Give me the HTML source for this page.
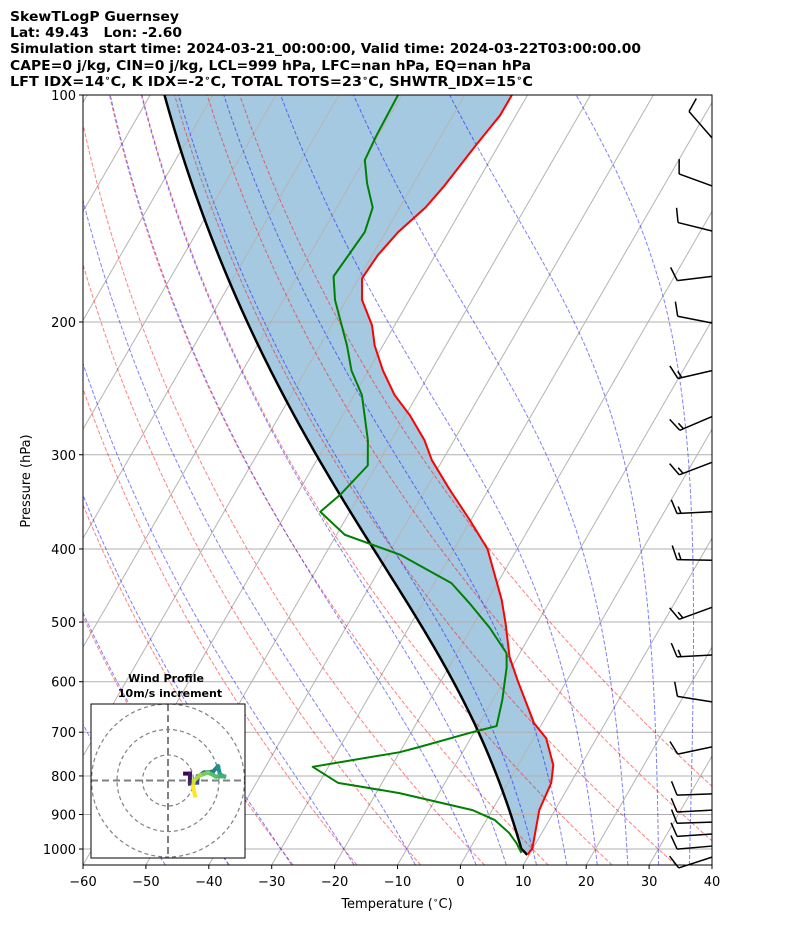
<!DOCTYPE html>
<html><head><meta charset="utf-8"><style>
html,body{margin:0;padding:0;background:#fff;}
svg{display:block;font-family:"DejaVu Sans","Liberation Sans",sans-serif;}
</style></head><body>
<svg id="chart" width="794" height="937" viewBox="0 0 794 937" xmlns="http://www.w3.org/2000/svg">
<defs><clipPath id="plotclip"><rect x="83" y="95" width="629" height="770"/></clipPath></defs>
<g font-weight="bold" font-size="13" fill="#000">
<text x="10" y="21" textLength="169" lengthAdjust="spacingAndGlyphs">SkewTLogP Guernsey</text>
<text x="10" y="37" textLength="172" lengthAdjust="spacingAndGlyphs" xml:space="preserve">Lat: 49.43   Lon: -2.60</text>
<text x="10" y="53" textLength="631" lengthAdjust="spacingAndGlyphs">Simulation start time: 2024-03-21_00:00:00, Valid time: 2024-03-22T03:00:00.00</text>
<text x="10" y="70" textLength="521" lengthAdjust="spacingAndGlyphs">CAPE=0 j/kg, CIN=0 j/kg, LCL=999 hPa, LFC=nan hPa, EQ=nan hPa</text>
<text x="10" y="86" textLength="523" lengthAdjust="spacingAndGlyphs">LFT IDX=14<tspan font-size="9" dy="-5">∘</tspan><tspan dy="5">C, K IDX=-2</tspan><tspan font-size="9" dy="-5">∘</tspan><tspan dy="5">C, TOTAL TOTS=23</tspan><tspan font-size="9" dy="-5">∘</tspan><tspan dy="5">C, SHWTR_IDX=15</tspan><tspan font-size="9" dy="-5">∘</tspan><tspan dy="5">C</tspan></text>
</g>
<g id="plot" clip-path="url(#plotclip)"></g>
<rect x="83" y="95" width="629" height="770" fill="none" stroke="#000" stroke-width="1"/>
<g id="axes" font-size="13" fill="#000"></g>
<text x="397" y="908" text-anchor="middle" font-size="13">Temperature (<tspan font-size="9" dy="-5">∘</tspan><tspan dy="5">C)</tspan></text>
<text transform="translate(30,481) rotate(-90)" text-anchor="middle" font-size="13">Pressure (hPa)</text>
<g id="barbs"></g>
<g id="hodo"></g>
</svg>
<script>
const tempP=[1018,997,888,817,774,713,681,597,556,502,467,400,366,334,305,287,266,250,232,215,202,187,175,163,152,141,132,116.5,106.4,100];
const tempT=[9.7,9.9,7.5,6.9,5.6,2.0,-1.3,-7.9,-11.3,-15.0,-17.8,-24.7,-30.2,-36.1,-41.7,-44.7,-49.3,-53.6,-57.7,-61.3,-63.6,-67.5,-69.5,-69.1,-68.0,-65.9,-64.9,-63.6,-62.5,-62.5];
const dewP=[1012,982,952,915,888,843,817,778,744,732,700,687,634,574,550,509,472,444,407,383,357,339,310,287,250,232,215,187,174,152,141,131,122,113.4,100];
const dewT=[8.6,6.9,4.8,1.3,-3.1,-16.3,-27.0,-32.5,-20.0,-17.3,-10.3,-7.0,-8.5,-10.8,-12.1,-17.1,-22.6,-27.3,-38.1,-48.7,-54.7,-53.1,-51.4,-53.7,-58.8,-62.7,-65.7,-71.8,-74.2,-73.3,-74.3,-77.4,-79.9,-80.3,-80.6];
const lclP=999;
const barbP=[114,132,151.5,174,200.6,232,267,307,357,414,478,553,638,732,845,888,921,955,991,1025];
const barbDir=[319,290,284,263,281,257,247,249,267,271,250,267,279,258,268,267,268,266,265,252];
const barbSpd=[10,10,10,10,10,15,15,15,15,15,15,15,10,10,10,10,10,10,10,10];
const hodoU=[6.7,8.6,8.6,11.4,11.8,14.1,17.6,19.6,20.4,22.0,18.8,15.7,12.5,10.2,9.8,10.6];
const hodoV=[2.7,2.7,-1.2,-0.8,1.6,3.1,3.5,5.5,2.4,1.6,1.6,3.1,2.0,0,-2.4,-5.9];
const xTicks=[-60,-50,-40,-30,-20,-10,0,10,20,30,40];
const pTicks=[100,200,300,400,500,600,700,800,900,1000];
const dryT0=[];for(let t=-40;t<=50;t+=10)dryT0.push(t);
const moistT0=[-50,-40,-30,-20,-10,0,5,10,15,20,25,30,35,40,45];
const hodoRings=[10,20,30];

const NS='http://www.w3.org/2000/svg';
const X0=83,X1=712,Y0=95,Y1=865,PB=1050,PT=100;
function yP(p){return Y0+(Y1-Y0)*Math.log(p/PT)/Math.log(PB/PT);}
function xT(t,p){return X0+(t+60)*(X1-X0)/100+0.5774*(Y1-yP(p));}
function mk(tag,attrs,parent){const e=document.createElementNS(NS,tag);for(const k in attrs)e.setAttribute(k,attrs[k]);parent.appendChild(e);return e;}
function pathD(pts){return pts.map((q,i)=>(i?'L':'M')+q[0].toFixed(2)+' '+q[1].toFixed(2)).join(' ');}
const plot=document.getElementById('plot');
const axes=document.getElementById('axes');

const Rd=287.04,Cp=1005.7,Lv=2.501e6,eps=0.622;
function dTdp(p,T){const tc=T-273.15;const es=6.112*Math.exp(17.67*tc/(tc+243.5));const rs=eps*es/(p-es);
 return (Rd*T+Lv*rs)/(p*(Cp+Lv*Lv*rs*eps/(Rd*T*T)));}
function moist(p0,T0K,p1,step){const out=[[p0,T0K]];let p=p0,T=T0K;const n=Math.ceil(Math.abs(p1-p0)/step);const h=(p1-p0)/n;
 for(let i=0;i<n;i++){const k1=dTdp(p,T),k2=dTdp(p+h/2,T+h/2*k1),k3=dTdp(p+h/2,T+h/2*k2),k4=dTdp(p+h,T+h*k3);T+=h/6*(k1+2*k2+2*k3+k4);p+=h;out.push([p,T]);}return out;}

const parcel=[];
(function(){const p0=tempP[0],T0=tempT[0]+273.15;
 for(let p=p0;p>lclP;p-=2)parcel.push([p,T0*Math.pow(p/p0,0.2857)]);
 const Tl=T0*Math.pow(lclP/p0,0.2857);
 moist(lclP,Tl,100,3).forEach(q=>parcel.push(q));})();

{const pts=[];for(let i=0;i<tempP.length;i++)pts.push([xT(tempT[i],tempP[i]),yP(tempP[i])]);
 for(let i=parcel.length-1;i>=0;i--)pts.push([xT(parcel[i][1]-273.15,parcel[i][0]),yP(parcel[i][0])]);
 const s=mk('path',{d:pathD(pts)+'Z',fill:'#1f77b4','fill-opacity':'0.4',stroke:'none'},plot);
 
 }

for(let t=-160;t<=40;t+=10){const l=mk('line',{x1:xT(t,PB),y1:yP(PB),x2:xT(t,PT),y2:yP(PT),stroke:'#b4b4b4','stroke-width':'1'},plot);
 
 }
pTicks.forEach(p=>{const l=mk('line',{x1:X0,y1:yP(p),x2:X1,y2:yP(p),stroke:'#b0b0b0','stroke-width':'1'},plot);
 
 });
dryT0.forEach(th=>{const pts=[];for(let p=PB;p>=PT-1;p-=10){pts.push([xT((th+273.15)*Math.pow(p/1000,0.2857)-273.15,p),yP(p)]);}
 const l=mk('path',{d:pathD(pts),fill:'none',stroke:'#ff0000','stroke-opacity':'0.5','stroke-width':'1','stroke-dasharray':'4 2'},plot);
 
 });
moistT0.forEach(t0=>{const up=moist(1000,t0+273.15,100,5),dn=moist(1000,t0+273.15,PB,5);
 const all=dn.reverse().concat(up.slice(1));const pts=all.map(q=>[xT(q[1]-273.15,q[0]),yP(q[0])]);
 const l=mk('path',{d:pathD(pts),fill:'none',stroke:'#0000ff','stroke-opacity':'0.5','stroke-width':'1','stroke-dasharray':'4 2'},plot);
 
 });
{const l=mk('path',{d:pathD(parcel.map(q=>[xT(q[1]-273.15,q[0]),yP(q[0])])),fill:'none',stroke:'#000','stroke-width':'2.5'},plot);
 
 }
{const l=mk('path',{d:pathD(tempP.map((p,i)=>[xT(tempT[i],p),yP(p)])),fill:'none',stroke:'#ff0000','stroke-width':'2','stroke-linejoin':'round'},plot);
 
 }
{const l=mk('path',{d:pathD(dewP.map((p,i)=>[xT(dewT[i],p),yP(p)])),fill:'none',stroke:'#008000','stroke-width':'2','stroke-linejoin':'round'},plot);
 
 }

xTicks.forEach(t=>{const x=X0+(t+60)*(X1-X0)/100;
 const tk=mk('line',{x1:x,y1:Y1,x2:x,y2:Y1+4,stroke:'#000','stroke-width':'1'},axes);
 
 
 const lb=mk('text',{x:x,y:Y1+21,'text-anchor':'middle'},axes);lb.textContent=(t<0?'\u2212':'')+Math.abs(t);
 
 });
pTicks.forEach(p=>{const y=yP(p);
 const tk=mk('line',{x1:X0-4,y1:y,x2:X0,y2:y,stroke:'#000','stroke-width':'1'},axes);
 
 
 const lb=mk('text',{x:X0-7,y:y+5,'text-anchor':'end'},axes);lb.textContent=p;
 
 });

const barbs=document.getElementById('barbs');
barbP.forEach((p,i)=>{const bx=X1,by=yP(p);const a=barbDir[i]*Math.PI/180;
 const d=[Math.sin(a),-Math.cos(a)];const L=35;const tx=bx+L*d[0],ty=by+L*d[1];const n=[-d[1],d[0]];
 const g=mk('g',{stroke:'#000','stroke-width':'1.5',fill:'none'},barbs);
 
 
 mk('line',{x1:bx,y1:by,x2:tx,y2:ty},g);
 let s=barbSpd[i];let off=0;
 while(s>=10){const px=tx-off*d[0],py=ty-off*d[1];mk('line',{x1:px,y1:py,x2:px+14*n[0]+5*d[0],y2:py+14*n[1]+5*d[1]},g);s-=10;off+=4;}
 if(s>=5){if(off===0)off=4;const px=tx-off*d[0],py=ty-off*d[1];mk('line',{x1:px,y1:py,x2:px+7*n[0]+2.5*d[0],y2:py+7*n[1]+2.5*d[1]},g);}
});

const hodo=document.getElementById('hodo');
const HX=91,HY=704,HW=154,HH=154,HCX=168,HCY=780.5,HS=2.55;
{const t1=mk('text',{x:166,y:682,'text-anchor':'middle','font-size':'11','font-weight':'bold'},hodo);t1.textContent='Wind Profile';
 
 
 const t2=mk('text',{x:170,y:697,'text-anchor':'middle','font-size':'11','font-weight':'bold'},hodo);t2.textContent='10m/s increment';
 
 
 const bg=mk('rect',{x:HX,y:HY,width:HW,height:HH,fill:'#fff',stroke:'none'},hodo);
 
 }
const hc=mk('g',{},hodo);


const cp=mk('clipPath',{id:'hodoclip'},hc);mk('rect',{x:HX,y:HY,width:HW,height:HH},cp);
const hg=mk('g',{'clip-path':'url(#hodoclip)'},hc);
hodoRings.forEach(r=>{const c=mk('circle',{cx:HCX,cy:HCY,r:r*HS,fill:'none',stroke:'#808080','stroke-width':'1.2','stroke-dasharray':'4 3'},hg);
 
 });
{const a=mk('line',{x1:HX,y1:HCY,x2:HX+HW,y2:HCY,stroke:'#808080','stroke-width':'2','stroke-dasharray':'7 4'},hg);
 
 
 const b=mk('line',{x1:HCX,y1:HY,x2:HCX,y2:HY+HH,stroke:'#808080','stroke-width':'2','stroke-dasharray':'7 4'},hg);
 
 }
const vir=[[68,1,84],[59,82,139],[33,145,140],[94,201,98],[253,231,37]];
function virC(f){const s=f*(vir.length-1);const i=Math.min(Math.floor(s),vir.length-2);const t=s-i;
 const c=vir[i].map((v,k)=>Math.round(v+(vir[i+1][k]-v)*t));return 'rgb('+c.join(',')+')';}
for(let i=0;i<hodoU.length-1;i++){const seg=mk('line',{x1:HCX+hodoU[i]*HS,y1:HCY-hodoV[i]*HS,x2:HCX+hodoU[i+1]*HS,y2:HCY-hodoV[i+1]*HS,stroke:virC(i/(hodoU.length-2)),'stroke-width':'4','stroke-linecap':'square'},hg);
 
 }
{const fr=mk('rect',{x:HX,y:HY,width:HW,height:HH,fill:'none',stroke:'#000','stroke-width':'1'},hodo);
 
 }
</script>
</body></html>
